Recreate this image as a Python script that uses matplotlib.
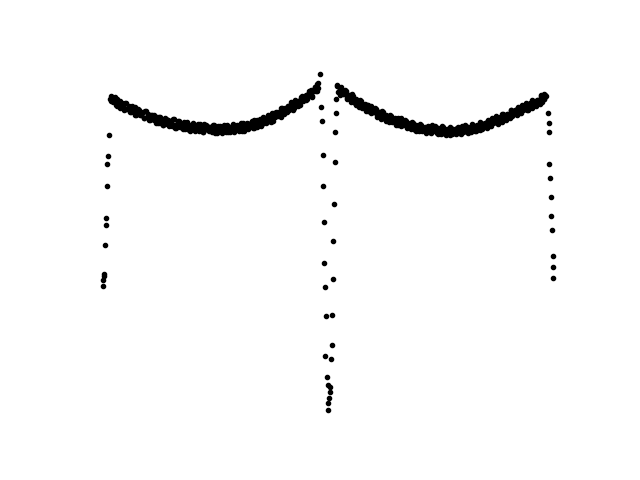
import numpy as np
import matplotlib
matplotlib.use('Agg')
import matplotlib.pyplot as plt

# folded light curve (arbitrary units, magnitude-like y)
left_x = [111, 112.5, 114, 115.5, 117, 118.5, 120, 121.5, 123, 124.5,
          126, 127.5, 129, 130.5, 132, 133.5, 135, 136.5, 138, 139.5,
          141, 142.5, 144, 145.5, 147, 148.5, 150, 151.5, 153, 154.5,
          156, 157.5, 159, 160.5, 162, 163.5, 165, 166.5, 168, 169.5,
          171, 172.5, 174, 175.5, 177, 178.5, 180, 181.5, 183, 184.5,
          186, 187.5, 189, 190.5, 192, 193.5, 195, 196.5, 198, 199.5,
          201, 202.5, 204, 205.5, 207, 208.5, 210, 211.5, 213, 214.5,
          216, 217.5, 219, 220.5, 222, 223.5, 225, 226.5, 228, 229.5,
          231, 232.5, 234, 235.5, 237, 238.5, 240, 241.5, 243, 244.5,
          246, 247.5, 249, 250.5, 252, 253.5, 255, 256.5, 258, 259.5,
          261, 262.5, 264, 265.5, 267, 268.5, 270, 271.5, 273, 274.5,
          276, 277.5, 279, 280.5, 282, 283.5, 285, 286.5, 288, 289.5,
          291, 292.5, 294, 295.5, 297, 298.5, 300, 301.5, 303, 304.5,
          306, 307.5, 309, 310.5, 312, 313.5, 315, 316.5, 318, 318.5, 317]
left_y = [98.5, 95.3, 101.5, 99.5, 104.3, 98.2, 103, 107.8, 102.5, 106.2,
          103, 108.8, 107.5, 106.2, 111.8, 105.4, 111, 114.6, 110.2, 108.8,
          114.4, 113, 111.6, 117.2, 110.8, 116.4, 120, 115.6, 114.2, 119.6,
          118.4, 117, 122.6, 116.1, 121.4, 124.7, 120, 118.3, 123.6, 121.9,
          120.2, 125.5, 118.8, 124.1, 127.4, 122.7, 121, 126.3, 124.6, 122.9,
          128.2, 121.5, 126.8, 130, 125.2, 123.4, 128.5, 126.7, 124.8, 130,
          123.1, 128.3, 131.4, 126.5, 124.7, 129.8, 128, 126, 131, 124,
          129, 132, 127, 125, 130, 128, 126, 131, 124, 129,
          131.9, 126.8, 124.7, 129.5, 127.3, 125.2, 130, 122.7, 127.4, 130.1,
          124.8, 122.5, 127.2, 124.9, 122.4, 127, 119.5, 124.1, 126.6, 121.2,
          118.6, 123, 120.4, 117.8, 122.2, 114.6, 119, 121.2, 115.5, 112.8,
          117, 114.2, 111.5, 115.7, 107.8, 111.9, 114, 108.1, 105.2, 109.3,
          106.4, 103.5, 107.6, 99.7, 103.8, 105.9, 100, 96.9, 100.9, 97.8,
          94.8, 98.7, 90.7, 94.6, 96.7, 90.4, 87, 90.9, 87.5, 82.5, 84]

# second night, same half of the orbit
left2_x = [111.8, 113.3, 114.8, 116.3, 117.8, 119.3, 120.8, 122.3, 123.8, 125.3,
           126.8, 128.3, 129.8, 131.3, 132.8, 134.3, 135.8, 137.3, 138.8, 140.3,
           141.8, 143.3, 144.8, 146.3, 147.8, 149.3, 150.8, 152.3, 153.8, 155.3,
           156.8, 158.3, 159.8, 161.3, 162.8, 164.3, 165.8, 167.3, 168.8, 170.3,
           171.8, 173.3, 174.8, 176.3, 177.8, 179.3, 180.8, 182.3, 183.8, 185.3,
           186.8, 188.3, 189.8, 191.3, 192.8, 194.3, 195.8, 197.3, 198.8, 200.3,
           201.8, 203.3, 204.8, 206.3, 207.8, 209.3, 210.8, 212.3, 213.8, 215.3,
           216.8, 218.3, 219.8, 221.3, 222.8, 224.3, 225.8, 227.3, 228.8, 230.3,
           231.8, 233.3, 234.8, 236.3, 237.8, 239.3, 240.8, 242.3, 243.8, 245.3,
           246.8, 248.3, 249.8, 251.3, 252.8, 254.3, 255.8, 257.3, 258.8, 260.3,
           261.8, 263.3, 264.8, 266.3, 267.8, 269.3, 270.8, 272.3, 273.8, 275.3,
           276.8, 278.3, 279.8, 281.3, 282.8, 284.3, 285.8, 287.3, 288.8, 290.3,
           291.8, 293.3, 294.8, 296.3, 297.8, 299.3, 300.8, 302.3, 303.8, 305.3,
           306.8, 308.3, 309.8, 311.3, 312.8, 314.3, 315.8, 317.3]
left2_y = [101, 97, 101, 97, 105.8, 102.6, 100.4, 106.2, 103.9, 109.6,
           102.4, 108.2, 105.9, 111.5, 107.1, 110.7, 106.3, 114.9, 111.5, 109.1,
           114.7, 112.3, 117.9, 110.5, 116.1, 113.7, 119.3, 114.9, 118.5, 114.1,
           122.7, 119.3, 116.9, 122.3, 119.6, 124.9, 117.2, 122.5, 119.8, 125.1,
           120.4, 123.7, 119, 127.3, 123.6, 120.9, 126.2, 123.5, 128.8, 121.1,
           126.4, 123.7, 129, 124.1, 127.3, 122.5, 130.6, 126.8, 123.9, 129,
           126.2, 131.3, 123.5, 128.6, 125.8, 130.9, 126, 129, 124, 132,
           128, 125, 130, 127, 132, 124, 129, 126, 131, 126,
           128.8, 123.7, 131.6, 127.4, 124.2, 129.1, 125.8, 130.5, 122.2, 126.9,
           123.6, 128.3, 123, 125.6, 120.2, 127.7, 123.3, 119.8, 124.4, 120.9,
           125.3, 116.7, 121.1, 117.5, 121.9, 116.3, 118.6, 112.9, 120.1, 115.4,
           111.6, 115.8, 112.1, 116.3, 107.4, 111.5, 107.6, 111.7, 105.8, 107.9,
           102, 109.1, 104.2, 100.3, 104.4, 100.4, 104.4, 95.4, 99.3, 95.3,
           99.2, 93.2, 95.1, 89.1, 96, 90.7, 86.4, 90.2]

right_x = [337, 338.5, 340, 341.5, 343, 344.5, 346, 347.5, 349, 350.5,
           352, 353.5, 355, 356.5, 358, 359.5, 361, 362.5, 364, 365.5,
           367, 368.5, 370, 371.5, 373, 374.5, 376, 377.5, 379, 380.5,
           382, 383.5, 385, 386.5, 388, 389.5, 391, 392.5, 394, 395.5,
           397, 398.5, 400, 401.5, 403, 404.5, 406, 407.5, 409, 410.5,
           412, 413.5, 415, 416.5, 418, 419.5, 421, 422.5, 424, 425.5,
           427, 428.5, 430, 431.5, 433, 434.5, 436, 437.5, 439, 440.5,
           442, 443.5, 445, 446.5, 448, 449.5, 451, 452.5, 454, 455.5,
           457, 458.5, 460, 461.5, 463, 464.5, 466, 467.5, 469, 470.5,
           472, 473.5, 475, 476.5, 478, 479.5, 481, 482.5, 484, 485.5,
           487, 488.5, 490, 491.5, 493, 494.5, 496, 497.5, 499, 500.5,
           502, 503.5, 505, 506.5, 508, 509.5, 511, 512.5, 514, 515.5,
           517, 518.5, 520, 521.5, 523, 524.5, 526, 527.5, 529, 530.5,
           532, 533.5, 535, 536.5, 538, 539.5, 541, 542.5, 544, 545.5, 544]
right_y = [85.3, 91.4, 89.4, 86.5, 93.6, 93.6, 90.7, 98.8, 94.8, 98.9,
           93.9, 99, 103, 98.9, 102.8, 106.7, 100.6, 103.5, 107.4, 106.3,
           105, 110.8, 108.5, 105.3, 112, 111.8, 108.5, 116.3, 112, 115.8,
           110.5, 115.3, 119, 114.6, 118.2, 121.8, 115.4, 118, 121.6, 120.2,
           118.6, 124.1, 121.5, 118, 124.4, 123.9, 120.3, 127.8, 123.2, 126.7,
           121.1, 125.6, 129, 124.3, 127.6, 130.9, 124.2, 126.5, 129.8, 128,
           126.2, 131.4, 128.5, 124.7, 130.8, 130, 126.1, 133.3, 128.4, 131.5,
           125.7, 129.8, 133, 128, 131, 134, 127, 129, 132, 130,
           127.8, 132.7, 129.5, 125.3, 131.2, 130, 125.8, 132.5, 127.2, 129.9,
           123.6, 127.3, 130, 124.6, 127.1, 129.6, 122.2, 123.8, 126.3, 123.8,
           121.2, 125.6, 122, 117.4, 122.8, 121.2, 116.6, 123, 117.4, 119.8,
           113.2, 116.6, 119, 113.2, 115.5, 117.8, 110, 111.2, 113.5, 110.8,
           108.2, 112.6, 109, 104.4, 109.8, 108.2, 103.5, 109.8, 104, 106.2,
           99.5, 102.8, 105, 99.1, 101.2, 103.3, 95.4, 96.5, 98.6, 95.7, 94]

right2_x = [337.8, 339.3, 340.8, 342.3, 343.8, 345.3, 346.8, 348.3, 349.8, 351.3,
            352.8, 354.3, 355.8, 357.3, 358.8, 360.3, 361.8, 363.3, 364.8, 366.3,
            367.8, 369.3, 370.8, 372.3, 373.8, 375.3, 376.8, 378.3, 379.8, 381.3,
            382.8, 384.3, 385.8, 387.3, 388.8, 390.3, 391.8, 393.3, 394.8, 396.3,
            397.8, 399.3, 400.8, 402.3, 403.8, 405.3, 406.8, 408.3, 409.8, 411.3,
            412.8, 414.3, 415.8, 417.3, 418.8, 420.3, 421.8, 423.3, 424.8, 426.3,
            427.8, 429.3, 430.8, 432.3, 433.8, 435.3, 436.8, 438.3, 439.8, 441.3,
            442.8, 444.3, 445.8, 447.3, 448.8, 450.3, 451.8, 453.3, 454.8, 456.3,
            457.8, 459.3, 460.8, 462.3, 463.8, 465.3, 466.8, 468.3, 469.8, 471.3,
            472.8, 474.3, 475.8, 477.3, 478.8, 480.3, 481.8, 483.3, 484.8, 486.3,
            487.8, 489.3, 490.8, 492.3, 493.8, 495.3, 496.8, 498.3, 499.8, 501.3,
            502.8, 504.3, 505.8, 507.3, 508.8, 510.3, 511.8, 513.3, 514.8, 516.3,
            517.8, 519.3, 520.8, 522.3, 523.8, 525.3, 526.8, 528.3, 529.8, 531.3,
            532.8, 534.3, 535.8, 537.3, 538.8, 540.3, 541.8, 543.3, 544.8]
right2_y = [85, 91, 94.1, 90.2, 92.2, 89.2, 97.3, 96.3, 94.4, 101.4,
            95.4, 101.5, 104.5, 100.4, 102.3, 99.2, 107.1, 106, 103.9, 110.7,
            104.4, 110.2, 112.9, 108.7, 110.4, 107.2, 114.9, 113.7, 111.4, 118.2,
            111.9, 117.7, 120.3, 115.9, 117.5, 114.1, 121.7, 120.3, 117.9, 124.4,
            117.8, 123.3, 125.7, 121.2, 122.6, 119.1, 126.5, 125, 122.4, 128.9,
            122.3, 127.8, 130.2, 125.5, 126.8, 123.1, 130.4, 128.7, 126, 132.1,
            125.3, 130.4, 132.6, 127.7, 128.9, 125, 132.2, 130.3, 127.5, 133.6,
            126.8, 131.9, 134, 129, 130, 126, 133, 131, 128, 133.9,
            126.8, 131.6, 133.4, 128.3, 129.1, 124.9, 131.6, 129.3, 126, 131.7,
            124.4, 129.1, 130.8, 125.3, 125.9, 121.4, 128, 125.5, 122.1, 127.5,
            119.9, 124.3, 125.7, 120.1, 120.5, 115.9, 122.3, 119.7, 116.1, 121.5,
            113.9, 118.3, 119.6, 113.9, 114.1, 109.4, 115.6, 112.9, 109.1, 114.5,
            106.9, 111.3, 112.7, 107.1, 107.5, 102.9, 109.1, 106.4, 102.6, 107.9,
            100.1, 104.4, 105.6, 99.7, 99.8, 95, 101.1, 98.2, 94.3]

# eclipse ingress / egress points
dip_x = [110, 109, 108.3, 108.3, 107.3, 106.7, 106.3, 105, 105.3, 104.3, 103.7,
         320, 321, 322.3, 323.3, 323.3, 324, 324, 325, 326, 325.7,
         327.7, 328.3, 330.3, 330, 329, 328.7, 328.3,
         336.7, 336.3, 335.3, 335, 334, 333.3, 333, 332, 332.7, 331,
         547.3, 548.3, 548.3, 549, 550, 550.3, 551, 551.7, 552.3, 552.7, 553]
dip_y = [134, 155, 163.3, 185.3, 217.3, 224.3, 244.3, 273.3, 275.3, 279.3, 284.7,
         74, 107, 121, 154.3, 185.7, 221, 262.7, 285.7, 315, 355,
         376, 384, 386, 391, 396.7, 401.7, 409.3,
         98.3, 112.3, 131, 161.7, 203.3, 240, 278, 314, 344, 357.7,
         112.5, 122.3, 131.5, 163.3, 177.7, 196.7, 215.7, 229, 255.7, 265.7, 276.7]

x = left_x + left2_x + right_x + right2_x + dip_x
y = left_y + left2_y + right_y + right2_y + dip_y

fig, ax = plt.subplots(figsize=(6.4, 4.8), dpi=100)
ax.plot(x, y, 'k.')
ax.invert_yaxis()
ax.axis('off')
plt.savefig('out.png')
